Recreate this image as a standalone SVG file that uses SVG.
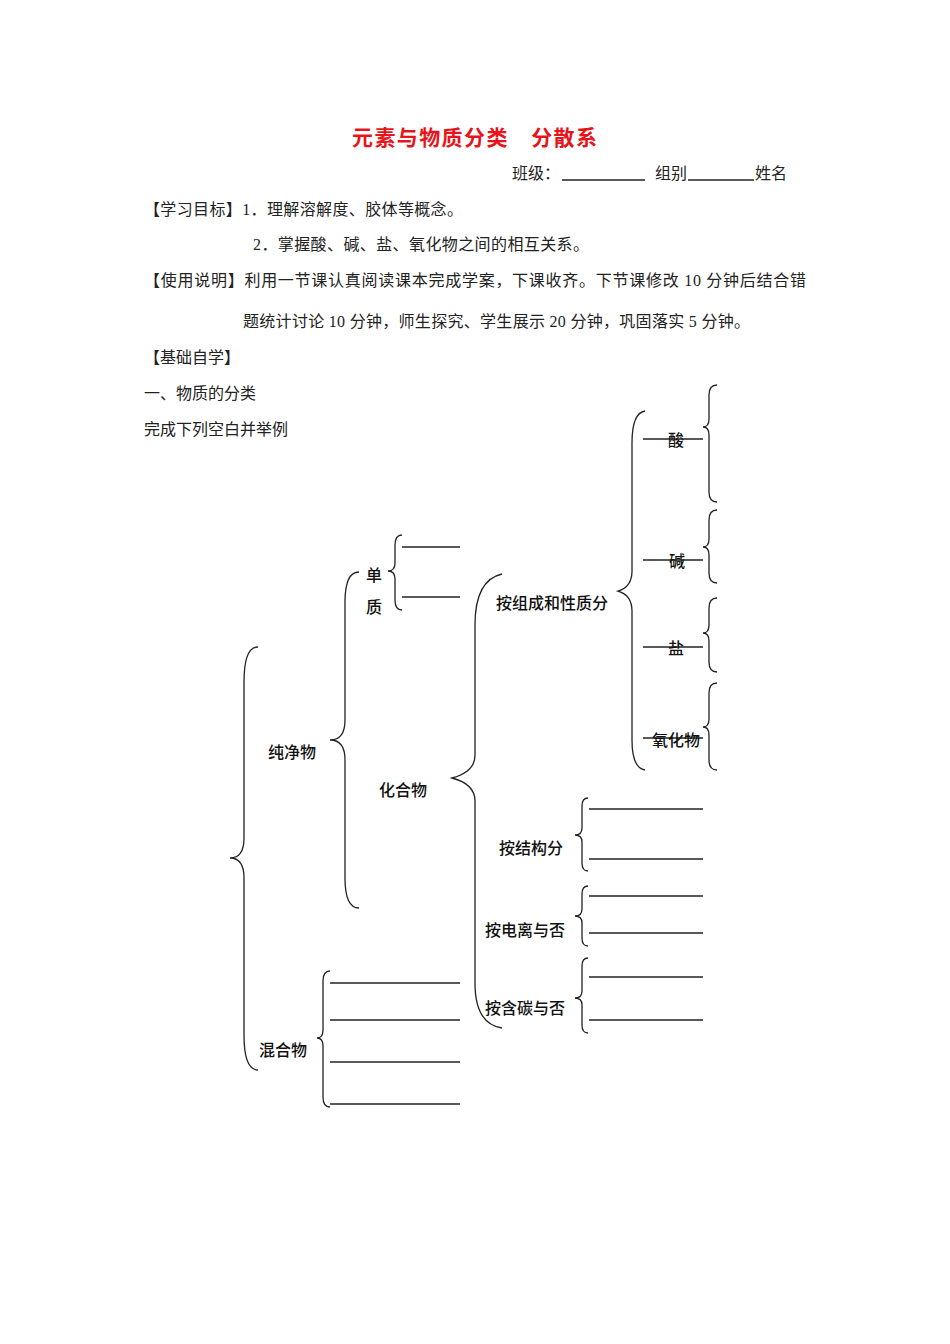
<svg xmlns="http://www.w3.org/2000/svg" width="950" height="1344" viewBox="0 0 950 1344">
<style>
  .bg{fill:#ffffff}
  .body{font-family:"Liberation Serif","Noto Sans CJK SC",serif;font-size:16px;fill:#222}
  .title{font-family:"Noto Sans CJK SC",sans-serif;font-size:21px;font-weight:bold;fill:#e8141b}
  .lbl{font-family:"Noto Sans CJK SC",sans-serif;font-size:16px;font-weight:500;fill:#111}
  .mid{text-anchor:middle}
  .brace{fill:none;stroke:#222;stroke-width:1.3}
  .ln{stroke:#222;stroke-width:1.3}
</style>
<rect class="bg" x="0" y="0" width="950" height="1344"/>

<g id="header">
  <text class="title" x="352" y="145" textLength="245">元素与物质分类　分散系</text>
  <text class="body" x="512" y="179">班级：</text>
  <line class="ln" x1="562" y1="180" x2="645" y2="180"/>
  <text class="body" x="655" y="179">组别</text>
  <line class="ln" x1="688" y1="180" x2="754" y2="180"/>
  <text class="body" x="755" y="179">姓名</text>
  <text class="body" x="144" y="215" textLength="319">【学习目标】1．理解溶解度、胶体等概念。</text>
  <text class="body" x="253" y="250" textLength="336">2．掌握酸、碱、盐、氧化物之间的相互关系。</text>
  <text class="body" x="144" y="286" textLength="662">【使用说明】利用一节课认真阅读课本完成学案，下课收齐。下节课修改 10 分钟后结合错</text>
  <text class="body" x="243" y="327" textLength="507">题统计讨论 10 分钟，师生探究、学生展示 20 分钟，巩固落实 5 分钟。</text>
  <text class="body" x="144" y="363">【基础自学】</text>
  <text class="body" x="144" y="399">一、物质的分类</text>
  <text class="body" x="144" y="435">完成下列空白并举例</text>
</g>

<g id="connectors">
  <!-- main brace: 纯净物 / 混合物 -->
  <path class="brace" d="M258,647 Q244,647 244,682 L244,838 Q244,858 230,858 Q244,858 244,878 L244,1035 Q244,1070 258,1070"/>
  <!-- 纯净物 brace -->
  <path class="brace" d="M359,572 Q345,572 345,602 L345,720 Q345,740 330,740 Q345,740 345,760 L345,878 Q345,908 359,908"/>
  <!-- 单质 brace -->
  <path class="brace" d="M402,535 Q395,535 395,545 L395,563 Q395,571 388,571 Q395,571 395,579 L395,600 Q395,610 402,610"/>
  <!-- 化合物 brace -->
  <path class="brace" d="M502,574 Q475,580 475,625 L475,755 Q475,772 452,778 Q475,784 475,801 L475,983 Q475,1024 502,1028"/>
  <!-- 按组成和性质分 brace -->
  <path class="brace" d="M645,411 Q632,413 632,443 L632,571 Q632,587 618,591 Q632,595 632,611 L632,740 Q632,768 645,770"/>
  <!-- 酸 -->
  <path class="brace" d="M717,385 Q709,385 709,395 L709,419 Q709,427 703,427 Q709,427 709,435 L709,492 Q709,502 717,502"/>
  <!-- 碱 -->
  <path class="brace" d="M717,510 Q709,510 709,520 L709,539 Q709,547 703,547 Q709,547 709,555 L709,573 Q709,583 717,583"/>
  <!-- 盐 -->
  <path class="brace" d="M717,598 Q709,598 709,608 L709,625 Q709,633 703,633 Q709,633 709,641 L709,662 Q709,672 717,672"/>
  <!-- 氧化物 -->
  <path class="brace" d="M717,683 Q709,683 709,693 L709,719 Q709,727 703,727 Q709,727 709,735 L709,760 Q709,770 717,770"/>
  <!-- 按结构分 -->
  <path class="brace" d="M588,798 Q582,798 582,806 L582,828 Q582,835 575,835 Q582,835 582,842 L582,863 Q582,871 588,871"/>
  <!-- 按电离与否 -->
  <path class="brace" d="M588,886 Q582,886 582,894 L582,909 Q582,916 575,916 Q582,916 582,923 L582,938 Q582,946 588,946"/>
  <!-- 按含碳与否 -->
  <path class="brace" d="M588,958 Q582,958 582,966 L582,991 Q582,998 575,998 Q582,998 582,1005 L582,1025 Q582,1033 588,1033"/>
  <!-- 混合物 brace -->
  <path class="brace" d="M330,971 Q323,971 323,981 L323,1030 Q323,1038 317,1038 Q323,1038 323,1046 L323,1097 Q323,1107 330,1107"/>

  <!-- blanks -->
  <line class="ln" x1="402" y1="547" x2="460" y2="547"/>
  <line class="ln" x1="402" y1="597" x2="460" y2="597"/>
  <line class="ln" x1="330" y1="983" x2="460" y2="983"/>
  <line class="ln" x1="330" y1="1020" x2="460" y2="1020"/>
  <line class="ln" x1="330" y1="1062" x2="460" y2="1062"/>
  <line class="ln" x1="330" y1="1104" x2="460" y2="1104"/>
  <line class="ln" x1="589" y1="809" x2="703" y2="809"/>
  <line class="ln" x1="589" y1="859" x2="703" y2="859"/>
  <line class="ln" x1="589" y1="896" x2="703" y2="896"/>
  <line class="ln" x1="589" y1="933" x2="703" y2="933"/>
  <line class="ln" x1="589" y1="977" x2="703" y2="977"/>
  <line class="ln" x1="589" y1="1020" x2="703" y2="1020"/>
  <line class="ln" x1="643" y1="439" x2="703" y2="439"/>
  <line class="ln" x1="643" y1="560" x2="703" y2="560"/>
  <line class="ln" x1="643" y1="647" x2="703" y2="647"/>
  <line class="ln" x1="643" y1="738" x2="703" y2="738"/>
</g>

<g id="n-chunjingwu"><text class="lbl" x="268" y="758">纯净物</text></g>
<g id="n-hunhewu"><text class="lbl" x="259" y="1056">混合物</text></g>
<g id="n-danzhi"><text class="lbl mid" x="374" y="581">单</text><text class="lbl mid" x="374" y="613">质</text></g>
<g id="n-huahewu"><text class="lbl" x="379" y="796">化合物</text></g>
<g id="n-zucheng"><text class="lbl" x="496" y="609">按组成和性质分</text></g>
<g id="n-suan"><text class="lbl mid" x="676" y="446">酸</text></g>
<g id="n-jian"><text class="lbl mid" x="677" y="567">碱</text></g>
<g id="n-yan"><text class="lbl mid" x="676" y="654">盐</text></g>
<g id="n-yanghuawu"><text class="lbl mid" x="676" y="746">氧化物</text></g>
<g id="n-jiegou"><text class="lbl" x="499" y="854">按结构分</text></g>
<g id="n-dianli"><text class="lbl" x="485" y="936">按电离与否</text></g>
<g id="n-hantan"><text class="lbl" x="485" y="1014">按含碳与否</text></g>
</svg>
